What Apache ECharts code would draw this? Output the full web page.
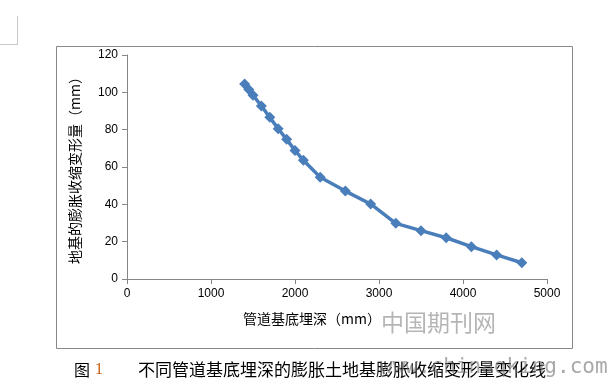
<!DOCTYPE html>
<html><head><meta charset="utf-8">
<script src="https://cdn.jsdelivr.net/npm/echarts@6/dist/echarts.min.js"></script>
<style>html,body{margin:0;padding:0;background:#fff}#c{width:607px;height:382px}</style>
</head><body><div id="c"></div>
<script>
const depths = [1400, 1450, 1500, 1600, 1700, 1800, 1900, 2000, 2100, 2300, 2600, 2900, 3200, 3500, 3800, 4100, 4400, 4700];
const deformation = [104.5, 101.5, 98.5, 92.7, 86.6, 80.5, 74.8, 68.9, 63.6, 54.5, 47.1, 40.2, 29.8, 25.9, 22.1, 17.3, 12.9, 8.7];
const xTicks = [0, 1000, 2000, 3000, 4000, 5000];
const yTicks = [0, 20, 40, 60, 80, 100, 120];
const xName = '管道基底埋深（mm）';
const yName = '地基的膨胀收缩变形量（mm）';
const caption = '不同管道基底埋深的膨胀土地基膨胀收缩变形量变化线';

const chart = echarts.init(document.getElementById('c'), null, {renderer: 'canvas'});
const axisColor = '#868686';
const numFont = 'Liberation Sans';
chart.setOption({
  animation: false,
  grid: {left: 127, right: 60, top: 55, bottom: 103},
  xAxis: {
    type: 'value', min: xTicks[0], max: xTicks[xTicks.length - 1], interval: 1000,
    name: xName, nameLocation: 'middle', nameGap: 33,
    nameTextStyle: {fontSize: 14, color: '#000', fontFamily: 'Noto Sans CJK SC', padding: [0, 50, 0, 0]},
    axisLine: {onZero: false, lineStyle: {color: axisColor, width: 1}},
    axisTick: {show: true, length: 5, lineStyle: {color: axisColor}},
    axisLabel: {fontSize: 12, color: '#000', fontFamily: numFont, margin: 9, formatter: v => String(v)},
    splitLine: {show: false}
  },
  yAxis: {
    type: 'value', min: yTicks[0], max: yTicks[yTicks.length - 1], interval: 20,
    name: yName, nameLocation: 'middle', nameGap: 45, nameRotate: 90,
    nameTextStyle: {fontSize: 14, color: '#000', fontFamily: 'Noto Sans CJK SC'},
    axisLine: {show: true, lineStyle: {color: axisColor, width: 1}},
    axisTick: {show: true, length: 5, lineStyle: {color: axisColor}},
    axisLabel: {fontSize: 12, color: '#000', fontFamily: numFont, margin: 9, formatter: v => String(v)},
    splitLine: {show: false}
  },
  series: [{
    type: 'line',
    data: depths.map((d, i) => [d, deformation[i]]),
    symbol: 'diamond', symbolSize: 11,
    lineStyle: {color: '#4A7EBB', width: 3.5},
    itemStyle: {color: '#4A7EBB'}
  }],
  graphic: [
    {type: 'rect', shape: {x: 56.5, y: 46.5, width: 516, height: 302}, style: {fill: 'none', stroke: '#888', lineWidth: 1}, z: -1},
    {type: 'line', shape: {x1: 17.5, y1: 16, x2: 17.5, y2: 45}, style: {stroke: '#c8c8c8', lineWidth: 1}},
    {type: 'line', shape: {x1: 0, y1: 44.5, x2: 17.5, y2: 44.5}, style: {stroke: '#c8c8c8', lineWidth: 1}},
    {type: 'text', style: {x: 74, y: 370, verticalAlign: 'middle', text: '图', fontSize: 16, fill: '#000', fontFamily: 'Noto Sans CJK SC'}},
    {type: 'text', style: {x: 95, y: 370, verticalAlign: 'middle', text: '1', fontSize: 16, fill: '#c55a11', fontFamily: 'Liberation Serif'}},
    {type: 'text', style: {x: 138, y: 370, verticalAlign: 'middle', text: caption, fontSize: 17, fill: '#000', fontFamily: 'Noto Sans CJK SC'}},
    {type: 'text', style: {x: 381, y: 322, verticalAlign: 'middle', text: '中国期刊网', fontSize: 23, fill: 'rgba(120,120,120,0.55)', fontFamily: 'Noto Sans CJK SC'}},
    {type: 'text', style: {x: 380, y: 368, verticalAlign: 'middle', text: 'www.chinaqking.com', fontSize: 21, fill: 'rgba(110,110,110,0.6)', fontFamily: 'DejaVu Sans Mono'}}
  ]
});
</script></body></html>
